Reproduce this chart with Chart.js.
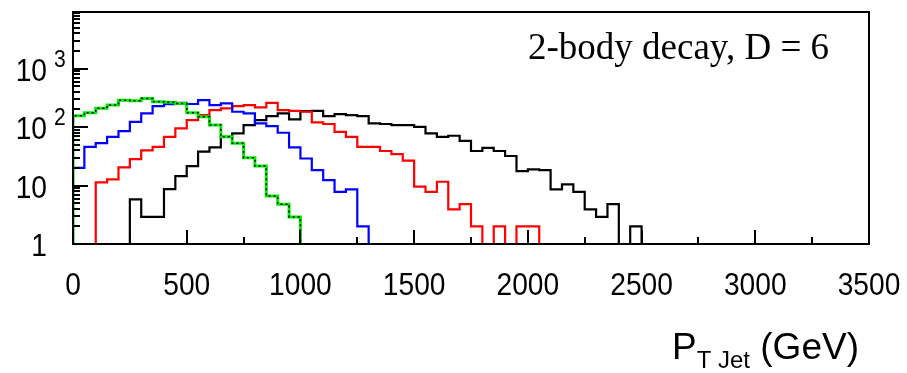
<!DOCTYPE html>
<html>
<head>
<meta charset="utf-8">
<script src="https://cdn.jsdelivr.net/npm/chart.js@4.4.0/dist/chart.umd.min.js"></script>
<style>
    html, body { margin: 0; padding: 0; background: #ffffff; }
    #wrap { width: 907px; height: 373px; }
</style>
</head>
<body>
<div id="wrap"><canvas id="grafico" width="907" height="373"></canvas></div>
<script>
// histogram bins, 50 GeV wide, first bin starts at 0
const binWidth = 50;
const xMin = 0;
const xMax = 3500;
const yMin = 1;
const yMax = 9300;

const xTickStep = 500;
const yTickValues = [1, 10, 100, 1000];
const yTickLabels = ['1', '10', '10', '10'];
const yTickExponents = ['', '', '2', '3'];

const textoTitulo = '2-body decay, D = 6';
const tituloX = ['P', 'T Jet', ' (GeV)'];

// counts per bin (0 = empty bin)
const verde = [156, 176, 209, 238, 289, 282, 309, 271, 265, 253, 176, 150, 108, 68, 53, 30, 21.5, 6.6, 4.8, 2.9];
const azul = [20, 46, 53, 68, 85, 123, 171, 229, 246, 260, 248, 290, 238, 254, 183, 171, 116, 104, 80, 45, 29, 18.4, 12.4, 7.8, 8.6, 2];
const vermelho = [0, 0, 11.3, 12.7, 20.5, 28.4, 40, 46, 68, 95, 132, 160, 195, 209, 229, 238, 217, 260, 195, 190, 183, 120, 113, 83, 68, 46, 46, 39, 34.5, 26.6, 9.6, 7.8, 11.6, 3.9, 4.8, 2, 0, 2, 0, 2, 2];
const preto = [0, 0, 0, 0, 0, 5.8, 2.9, 2.9, 8.7, 14.5, 21.5, 38, 45, 68, 78, 108, 132, 154, 171, 135, 188, 190, 154, 167, 160, 154, 116, 113, 108, 108, 101, 78, 68, 71, 58, 39, 44, 39, 32, 17.7, 18.9, 18.4, 8.6, 10.5, 7.8, 3.9, 2.9, 4.8, 0, 2];

// turn bin counts into step points (left edges), empty bins sit on the axis floor
function pontosHist(contagens) {
    var pts = [{ x: 0, y: yMin }];
    contagens.forEach(function (c, i) {
        pts.push({ x: i * binWidth, y: c > 0 ? c : yMin });
    });
    pts.push({ x: contagens.length * binWidth, y: yMin });
    return pts;
}

function serie(contagens, cor, largura, ordem, traco) {
    return {
        data: pontosHist(contagens),
        borderColor: cor,
        borderWidth: largura,
        borderDash: traco || [],
        stepped: 'before',
        pointRadius: 0,
        fill: false,
        order: ordem
    };
}

const fonteSans = '"Liberation Sans", Arial, Helvetica, sans-serif';

// narrow text, like the ROOT labels
function textoEstreito(ctx, s, x, y, alinhar) {
    ctx.save();
    ctx.translate(x, y);
    ctx.scale(0.88, 1);
    ctx.textAlign = alinhar;
    ctx.fillText(s, 0, 0);
    ctx.restore();
}

// ROOT-like frame, inner ticks and texts
const estiloRoot = {
    id: 'estiloRoot',
    afterDraw(chart) {
        const ctx = chart.ctx;
        const a = chart.chartArea;
        const sx = chart.scales.x;
        const sy = chart.scales.y;
        ctx.save();
        ctx.strokeStyle = '#000';
        ctx.lineWidth = 2;
        ctx.strokeRect(a.left, a.top, a.right - a.left, a.bottom - a.top);

        ctx.beginPath();
        for (let v = xMin; v <= xMax; v += xTickStep / 2) {
            const px = Math.round(sx.getPixelForValue(v));
            const len = v % xTickStep === 0 ? 14 : 7;
            ctx.moveTo(px, a.bottom);
            ctx.lineTo(px, a.bottom - len);
        }
        for (let d = 1; d <= yMax; d *= 10) {
            for (let k = 1; k <= 9; k++) {
                const v = k * d;
                if (v > yMax) break;
                const py = Math.round(sy.getPixelForValue(v));
                const len = k === 1 ? 15 : 7;
                ctx.moveTo(a.left, py);
                ctx.lineTo(a.left + len, py);
            }
        }
        ctx.stroke();

        ctx.fillStyle = '#000';
        ctx.textBaseline = 'alphabetic';

        // x tick labels
        ctx.font = '32px ' + fonteSans;
        for (let v = xMin; v <= xMax; v += xTickStep) {
            textoEstreito(ctx, String(v), sx.getPixelForValue(v), 295, 'center');
        }

        // y tick labels with exponents
        yTickValues.forEach(function (v, i) {
            const py = sy.getPixelForValue(v);
            ctx.font = '32px ' + fonteSans;
            textoEstreito(ctx, yTickLabels[i], 47, py + 12, 'right');
            if (yTickExponents[i]) {
                ctx.font = '24px ' + fonteSans;
                textoEstreito(ctx, yTickExponents[i], 54, py - 2, 'left');
            }
        });

        ctx.textAlign = 'left';
        ctx.font = '37px "Liberation Serif", "Times New Roman", serif';
        ctx.fillText(textoTitulo, 528, 59);

        let xx = 672;
        ctx.font = '37px ' + fonteSans;
        ctx.fillText(tituloX[0], xx, 359);
        xx += ctx.measureText(tituloX[0]).width;
        ctx.font = '24px ' + fonteSans;
        ctx.fillText(tituloX[1], xx, 368);
        xx += ctx.measureText(tituloX[1]).width;
        ctx.font = '37px ' + fonteSans;
        ctx.fillText(tituloX[2], xx, 359);
        ctx.restore();
    }
};

new Chart(document.getElementById('grafico'), {
    type: 'line',
    data: {
        datasets: [
            serie(preto, '#000000', 2.2, 5),
            serie(vermelho, '#ff0000', 2.2, 4),
            serie(azul, '#0000ff', 2.2, 3),
            serie(verde, '#00ee00', 3, 2),
            serie(verde, '#000000', 1.5, 1, [2, 3])
        ]
    },
    options: {
        responsive: false,
        animation: false,
        devicePixelRatio: 1,
        layout: { padding: { top: 12, right: 38, left: 0, bottom: 0 } },
        scales: {
            x: {
                type: 'linear',
                min: xMin,
                max: xMax,
                grid: { display: false, drawTicks: false },
                border: { display: false },
                ticks: { display: false, stepSize: xTickStep },
                afterFit: function (escala) {
                    escala.height = 129;
                    escala.paddingLeft = 0;
                    escala.paddingRight = 0;
                }
            },
            y: {
                type: 'logarithmic',
                min: yMin,
                max: yMax,
                grid: { display: false, drawTicks: false },
                border: { display: false },
                ticks: { display: false },
                afterFit: function (escala) {
                    escala.width = 73;
                    escala.paddingTop = 0;
                    escala.paddingBottom = 0;
                }
            }
        },
        plugins: {
            legend: { display: false },
            title: { display: false },
            tooltip: { enabled: false }
        }
    },
    plugins: [estiloRoot]
});
</script>
</body>
</html>
